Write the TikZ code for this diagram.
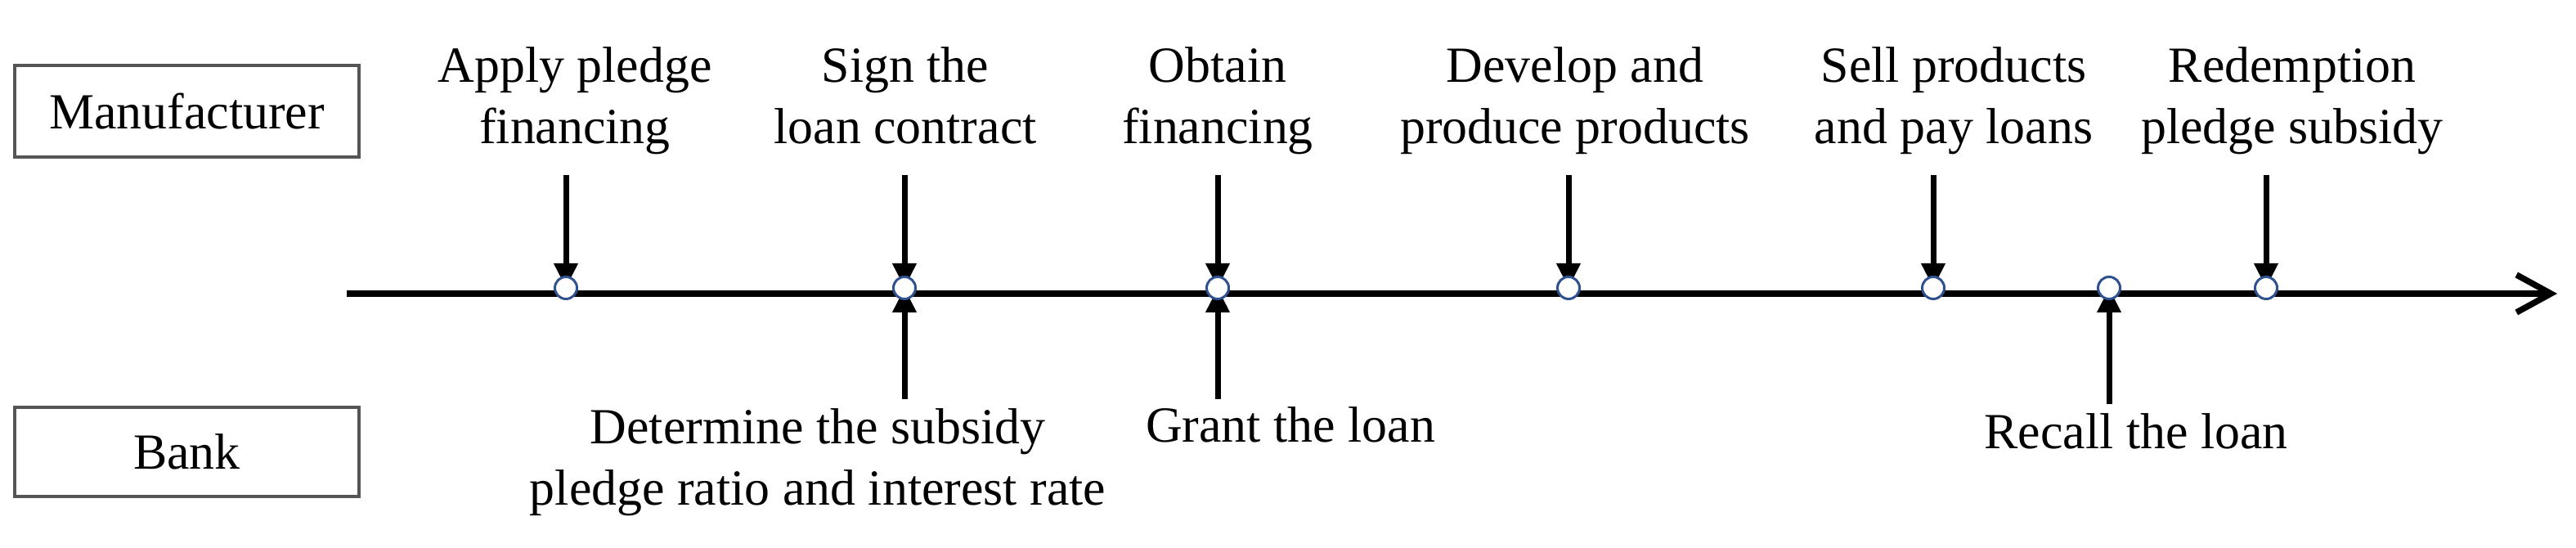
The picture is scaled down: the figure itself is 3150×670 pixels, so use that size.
\documentclass[tikz,border=0pt]{standalone}
\usepackage{fontspec}
\setmainfont{Liberation Serif}
\usetikzlibrary{arrows.meta}
\definecolor{dotblue}{RGB}{47,82,143}
\definecolor{boxgray}{RGB}{85,85,85}
\begin{document}
\begin{tikzpicture}[x=0.1mm,y=-0.1mm,
  lbl/.style={font=\fontsize{17.6}{21.6}\selectfont, align=center, inner sep=0pt, anchor=base},
  actor/.style={draw=boxgray, line width=0.35mm, minimum width=42.1mm, inner sep=0pt,
                font=\fontsize{17.6}{21.6}\selectfont},
  dot/.style={circle, draw=dotblue, fill=white, line width=0.3mm, minimum size=2.7mm, inner sep=0pt},
  evarrow/.style={line width=0.7mm, -{Triangle[length=3mm,width=2.8mm]}},
  axis/.style={line width=0.75mm, -{Straight Barb[length=4.2mm,width=4.6mm]}}
]
\useasboundingbox (0,0) rectangle (3150,670);

% actor boxes
\node[actor, minimum height=11.2mm] (mfr) at (228.5,136) {Manufacturer};
\node[actor, minimum height=10.9mm] (bank) at (228.5,552.5) {Bank};

% timeline
\coordinate (ts) at (424,359);
\coordinate (te) at (3127,359);
\draw[axis] (ts) -- (te);

% event points
\coordinate (p1) at (692,352);
\coordinate (p2) at (1106,352);
\coordinate (p3) at (1489,352);
\coordinate (p4) at (1918,352);
\coordinate (p5) at (2364,352);
\coordinate (p6) at (2579,352);
\coordinate (p7) at (2771,352);

% arrow start points
\coordinate (a1) at (692,214);
\coordinate (a2) at (1106,214);
\coordinate (a3) at (1489,214);
\coordinate (a4) at (1918,214);
\coordinate (a5) at (2364,214);
\coordinate (a7) at (2771,214);
\coordinate (b2) at (1106,488);
\coordinate (b3) at (1489,488);
\coordinate (b6) at (2579,494);

\draw[evarrow] (a1) -- (p1);
\draw[evarrow] (a2) -- (p2);
\draw[evarrow] (a3) -- (p3);
\draw[evarrow] (a4) -- (p4);
\draw[evarrow] (a5) -- (p5);
\draw[evarrow] (a7) -- (p7);
\draw[evarrow] (b2) -- (p2);
\draw[evarrow] (b3) -- (p3);
\draw[evarrow] (b6) -- (p6);

\node[dot] (c1) at (p1) {};
\node[dot] (c2) at (p2) {};
\node[dot] (c3) at (p3) {};
\node[dot] (c4) at (p4) {};
\node[dot] (c5) at (p5) {};
\node[dot] (c6) at (p6) {};
\node[dot] (c7) at (p7) {};

% manufacturer events (base = last line's baseline)
\node[lbl] (t1) at (703,176) {Apply pledge\\financing};
\node[lbl] (t2) at (1107,176) {Sign the\\loan contract};
\node[lbl] (t3) at (1489,176) {Obtain\\financing};
\node[lbl] (t4) at (1926,176) {Develop and\\produce products};
\node[lbl] (t5) at (2389,176) {Sell products\\and pay loans};
\node[lbl] (t7) at (2803,176) {Redemption\\pledge subsidy};

% bank events
\node[lbl] (u2) at (1000,618) {Determine the subsidy\\pledge ratio and interest rate};
\node[lbl] (u3) at (1578,541) {Grant the loan};
\node[lbl] (u6) at (2612,549) {Recall the loan};
\end{tikzpicture}
\end{document}
